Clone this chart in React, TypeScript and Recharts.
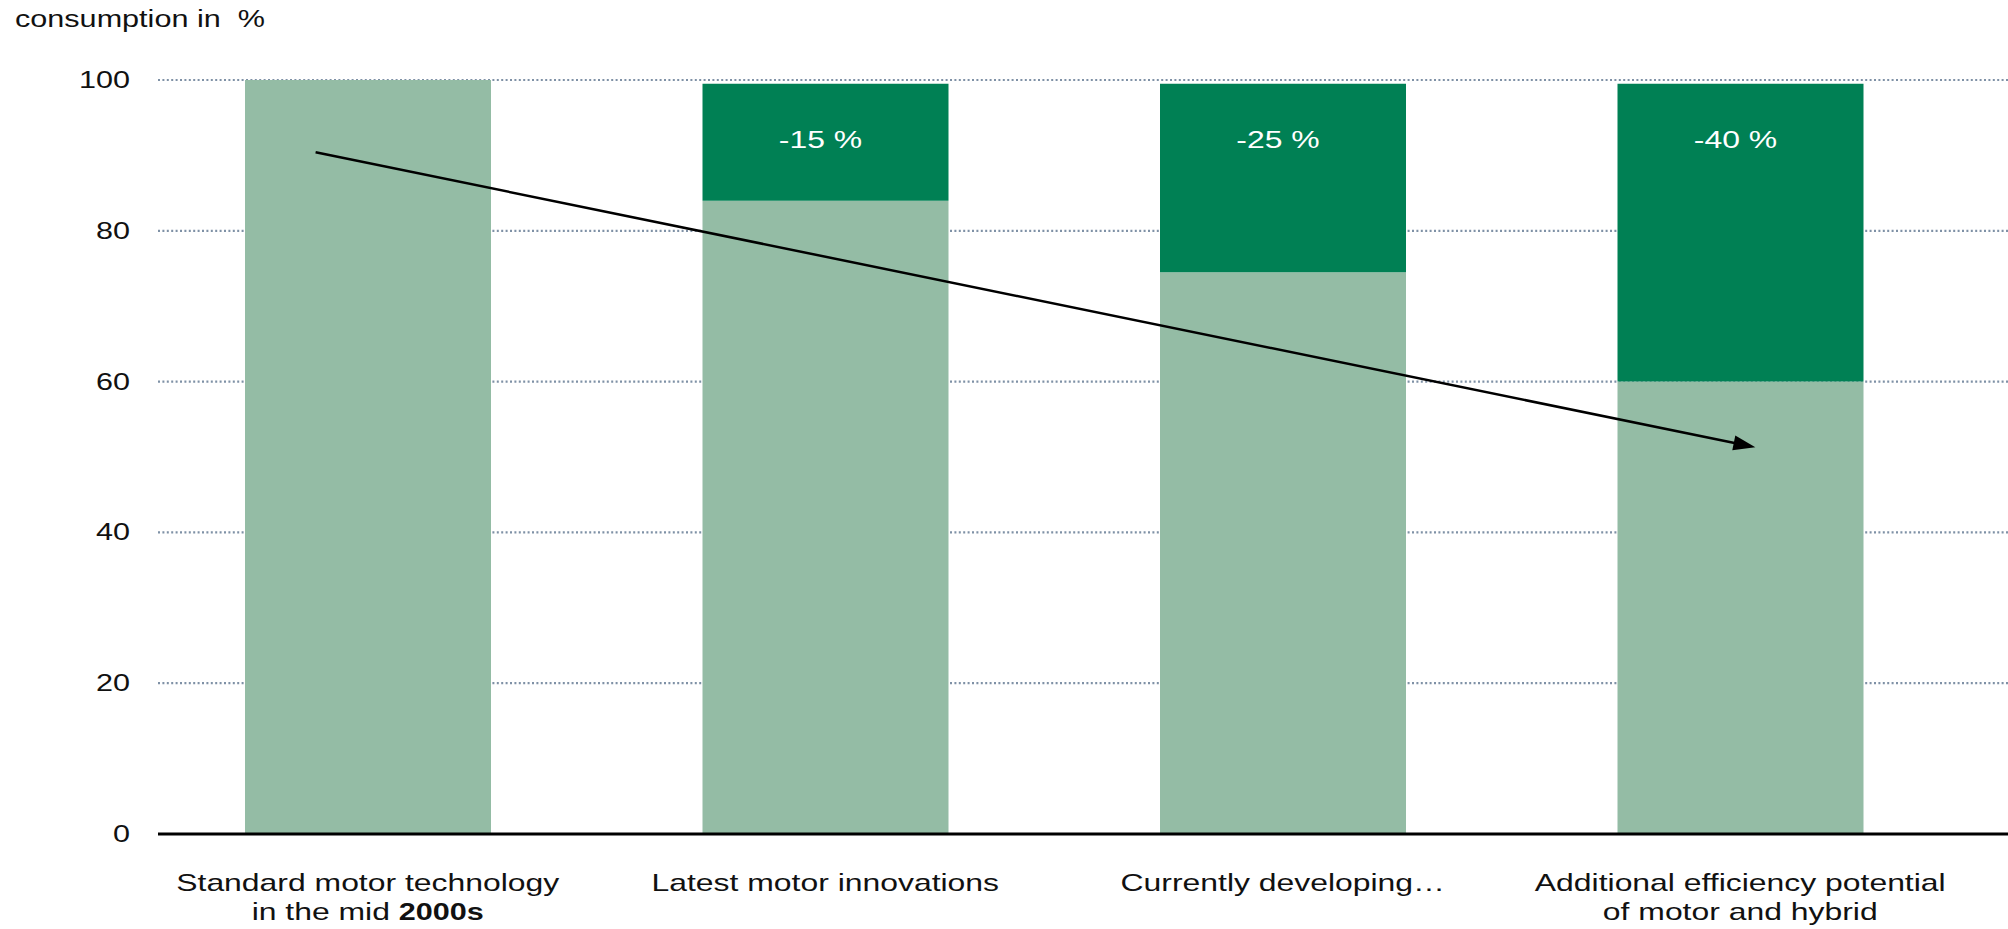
import { BarChart, Bar, XAxis, YAxis, CartesianGrid, LabelList, ReferenceLine } from "recharts";

const categories = [
  "Standard motor technology in the mid 2000s",
  "Latest motor innovations",
  "Currently developing…",
  "Additional efficiency potential of motor and hybrid",
];
const labelLine1 = [
  "Standard motor technology",
  "Latest motor innovations",
  "Currently developing…",
  "Additional efficiency potential",
];
const labelLine2 = ["in the mid 2000s", "", "", "of motor and hybrid"];

const baseValues = [100, 84, 74.5, 60];
const reductionValues = [0, 15.5, 25, 39.5];
const reductionLabels = ["", "-15 %", "-25 %", "-40 %"];

const yTicks = [0, 20, 40, 60, 80, 100];

// trend arrow, in data units (from first to last category)
const arrowFrom = 89;
const arrowTo = 51.7;

const data = categories.map((c, i) => ({
  name: c,
  base: baseValues[i],
  reduction: reductionValues[i],
  label: reductionLabels[i],
}));

const FONT = "'Liberation Sans', Arial, sans-serif";
const STRETCH = 1.33;
const LIGHT = "#94bca5";
const DARK = "#008054";

function YTick(props: any) {
  const { x, y, payload } = props;
  return (
    <g transform={`translate(${x},${y})`}>
      <text
        transform={`scale(${STRETCH},1)`}
        textAnchor="end"
        dy={8}
        fontFamily={FONT}
        fontSize={23}
        fill="#111"
      >
        {payload.value}
      </text>
    </g>
  );
}

function renderLine(line: string) {
  const m = line.match(/^(.*?)(\d{4}s)$/);
  if (!m) return line;
  return (
    <>
      {m[1]}
      <tspan fontWeight="bold" fontSize={23}>
        {m[2]}
      </tspan>
    </>
  );
}

function XTick(props: any) {
  const { x, y, index } = props;
  return (
    <g transform={`translate(${x},${y})`}>
      <text
        transform={`scale(${STRETCH},1)`}
        textAnchor="middle"
        fontFamily={FONT}
        fontSize={24}
        fill="#111"
      >
        <tspan x={0} y={55}>
          {labelLine1[index]}
        </tspan>
        {labelLine2[index] ? (
          <tspan x={0} y={84}>
            {renderLine(labelLine2[index])}
          </tspan>
        ) : null}
      </text>
    </g>
  );
}

function ReductionLabel(props: any) {
  const { x, y, width, value } = props;
  if (!value) return null;
  return (
    <g transform={`translate(${x + width / 2 - 5},${y + 64})`}>
      <text
        transform={`scale(${STRETCH},1)`}
        textAnchor="middle"
        fontFamily={FONT}
        fontSize={24}
        fill="#ffffff"
      >
        {value}
      </text>
    </g>
  );
}

function Arrow(props: any) {
  let { x1, y1, x2, y2 } = props;
  const dx = x2 - x1;
  const dy = y2 - y1;
  // stretch the segment a little past the bar centres
  x1 = x1 - dx * 0.038;
  y1 = y1 - dy * 0.038;
  x2 = x2 + dx * 0.011;
  y2 = y2 + dy * 0.011;
  const len = Math.sqrt(dx * dx + dy * dy);
  const ux = dx / len;
  const uy = dy / len;
  const headLen = 22;
  const headHalf = 7.5;
  const bx = x2 - ux * headLen;
  const by = y2 - uy * headLen;
  const pts = `${x2},${y2} ${bx - uy * headHalf},${by + ux * headHalf} ${bx + uy * headHalf},${by - ux * headHalf}`;
  return (
    <g>
      <line x1={x1} y1={y1} x2={bx + ux * 2} y2={by + uy * 2} stroke="#000" strokeWidth={2.5} />
      <polygon points={pts} fill="#000" />
    </g>
  );
}

export default function App() {
  return (
    <div style={{ position: "absolute", left: 0, top: 0, width: 2008, height: 929, background: "#fff" }}>
      <div
        style={{
          position: "absolute",
          left: 15,
          top: 6,
          fontFamily: FONT,
          fontSize: 23,
          color: "#111",
          transform: `scaleX(${STRETCH})`,
          transformOrigin: "left top",
          whiteSpace: "pre",
        }}
      >
        consumption in  %
      </div>
      <BarChart
        width={2008}
        height={929}
        data={data}
        margin={{ top: 80, right: 0, bottom: 0, left: 0 }}
      >
        <CartesianGrid
          vertical={false}
          stroke="#7f91a6"
          strokeWidth={2.2}
          strokeDasharray="2 2.4"
        />
        <XAxis
          dataKey="name"
          height={95}
          padding={{ left: -19, right: 39 }}
          axisLine={{ stroke: "#000", strokeWidth: 3 }}
          tickLine={false}
          tickSize={0}
          tick={<XTick />}
          interval={0}
        />
        <YAxis
          width={158}
          domain={[0, 100]}
          ticks={yTicks}
          axisLine={false}
          tickLine={false}
          tickSize={0}
          tickMargin={28}
          tick={<YTick />}
        />
        <Bar dataKey="base" stackId="a" fill={LIGHT} barSize={246} isAnimationActive={false} />
        <Bar dataKey="reduction" stackId="a" fill={DARK} barSize={246} isAnimationActive={false}>
          <LabelList dataKey="label" content={<ReductionLabel />} />
        </Bar>
        <ReferenceLine
          segment={[
            { x: categories[0], y: arrowFrom },
            { x: categories[3], y: arrowTo },
          ]}
          ifOverflow="visible"
          shape={<Arrow />}
        />
      </BarChart>
    </div>
  );
}
